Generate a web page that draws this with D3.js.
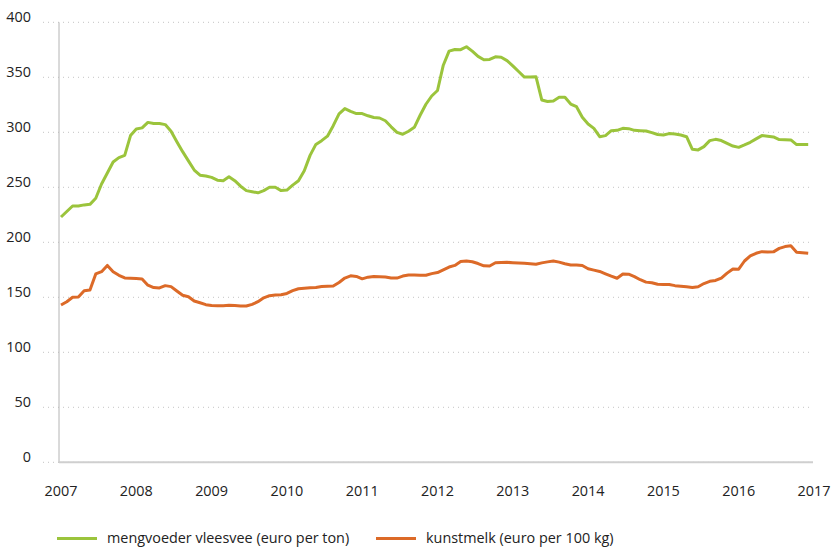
<!DOCTYPE html>
<html>
<head>
<meta charset="utf-8">
<script src="https://cdn.jsdelivr.net/npm/d3@7"></script>
<style>
  html, body { margin: 0; padding: 0; background: #fff; }
  svg { display: block; }
  text { font-family: "Open Sans", "Noto Sans", sans-serif; fill: #222; }
</style>
</head>
<body>
<svg id="chart" width="832" height="547"></svg>
<script>
// Year labels on the x axis (13 four-week periods per year)
const years = ["2007","2008","2009","2010","2011","2012","2013","2014","2015","2016","2017"];
const periodsPerYear = 13;
const yTicks = [0, 50, 100, 150, 200, 250, 300, 350, 400];

const seriesNames = ["mengvoeder vleesvee (euro per ton)", "kunstmelk (euro per 100 kg)"];
const seriesColors = ["#9bc43c", "#dc6a28"];

// mengvoeder vleesvee, euro per ton, per period
const mengvoeder = [
  223, 228, 233, 233, 234, 234.5, 240, 253, 263, 273, 277, 279, 297,
  303, 304, 309, 308, 308, 307, 301, 291.5, 282.4, 274, 265.7, 261, 260.3,
  259, 256.5, 256, 259.6, 256, 251, 247, 246, 245, 247, 250, 250, 247,
  247.5, 252, 256, 265, 279, 289, 292.4, 296.5, 306, 316.7, 321.6, 319, 317,
  317, 315, 313.5, 313, 310.5, 305, 300, 298.2, 301, 304.5, 315.5, 325.5, 333,
  338, 361, 373.8, 375.3, 375.1, 377.8, 373.8, 369, 366, 366.2, 368.6, 368.2, 365.2,
  360.4, 355.3, 350.2, 350.3, 350.6, 329.4, 328, 328.5, 331.8, 331.8, 325.7, 323.3, 313.6,
  307.5, 303.6, 296, 297, 301.5, 301.8, 303.6, 303.3, 301.8, 301.5, 301.2, 299.7, 298,
  297.5, 298.8, 298.5, 297.5, 296, 284.5, 284, 287, 292.4, 293.6, 292.5, 290, 287.5,
  286.3, 288.5, 290.9, 294, 297, 296.5, 295.8, 293.4, 293.2, 293.1, 288.8, 288.8, 288.8
];

// kunstmelk, euro per 100 kg, per period
const kunstmelk = [
  143, 146, 150, 150.3, 156, 156.6, 171.2, 173.3, 179, 173.3, 170, 167.6, 167.4,
  167, 166.7, 161, 158.8, 158.5, 160.6, 159.7, 155.7, 151.8, 150.5, 146.6, 145, 143.3,
  142.5, 142.3, 142.4, 142.7, 142.5, 142.2, 142.1, 143.6, 146, 149.5, 151.5, 152, 152.4,
  153.5, 156, 157.8, 158.3, 158.6, 159, 159.8, 160, 160.3, 163.5, 167.5, 169.5, 169,
  166.8, 168.3, 169, 168.7, 168.5, 167.6, 167.5, 169.3, 170.3, 170.2, 170.1, 170, 171.5,
  172.5, 175, 177.5, 179, 182.5, 183, 182.3, 180.7, 178.6, 178.5, 181.4, 181.7, 181.8,
  181.5, 181.2, 181, 180.6, 180.1, 181.3, 182.2, 183, 182, 180.5, 179.4, 179.4, 178.9,
  175.9, 174.7, 173.5, 171.3, 169.2, 167.3, 171.2, 171, 168.8, 166, 163.8, 163.2, 161.8,
  161.7, 161.6, 160.6, 160, 159.5, 158.9, 159.6, 162.5, 164.5, 165.3, 167.5, 172, 175.8,
  175.6, 183, 187.6, 190, 191.5, 191.1, 191.3, 194.5, 196.1, 196.8, 191, 190.5, 190
];

const svg = d3.select("#chart");
const fontSize = "14.4px";

const x = d3.scaleLinear()
  .domain([0, (years.length - 1) * periodsPerYear])
  .range([61, 814]);

const y = d3.scaleLinear()
  .domain([0, 400])
  .range([462.3, 22.3]);

// dotted horizontal gridlines
svg.append("g")
  .selectAll("line")
  .data(yTicks)
  .join("line")
  .attr("x1", 43)
  .attr("x2", 811)
  .attr("y1", d => y(d))
  .attr("y2", d => y(d))
  .attr("stroke", "#c4c4c4")
  .attr("stroke-width", 1)
  .attr("stroke-dasharray", "1,4");

// y tick labels, baseline on the gridline
svg.append("g")
  .selectAll("text")
  .data(yTicks)
  .join("text")
  .attr("x", 31)
  .attr("y", d => y(d))
  .attr("text-anchor", "end")
  .style("font-size", fontSize)
  .text(d => d);

// vertical axis line
svg.append("line")
  .attr("x1", 59).attr("x2", 59)
  .attr("y1", y(400)).attr("y2", y(0))
  .attr("stroke", "#b4b4b4")
  .attr("stroke-width", 1);

// horizontal axis line
svg.append("line")
  .attr("x1", 59).attr("x2", 813)
  .attr("y1", y(0)).attr("y2", y(0))
  .attr("stroke", "#cfcfcf")
  .attr("stroke-width", 2);

// year labels
svg.append("g")
  .selectAll("text")
  .data(years)
  .join("text")
  .attr("x", (d, i) => x(i * periodsPerYear))
  .attr("y", 496)
  .attr("text-anchor", "middle")
  .style("font-size", fontSize)
  .text(d => d);

const line = d3.line()
  .x((d, i) => x(i))
  .y(d => y(d));

[mengvoeder, kunstmelk].forEach((values, k) => {
  svg.append("path")
    .datum(values)
    .attr("fill", "none")
    .attr("stroke", seriesColors[k])
    .attr("stroke-width", 3)
    .attr("stroke-linejoin", "round")
    .attr("stroke-linecap", "butt")
    .attr("d", line);
});

// legend
const legendX = [57, 376];
const legend = svg.append("g");
seriesNames.forEach((name, k) => {
  legend.append("line")
    .attr("x1", legendX[k]).attr("x2", legendX[k] + 40)
    .attr("y1", 538.5).attr("y2", 538.5)
    .attr("stroke", seriesColors[k])
    .attr("stroke-width", 3);
  legend.append("text")
    .attr("x", legendX[k] + 50)
    .attr("y", 543)
    .style("font-size", fontSize)
    .text(name);
});
</script>
</body>
</html>
